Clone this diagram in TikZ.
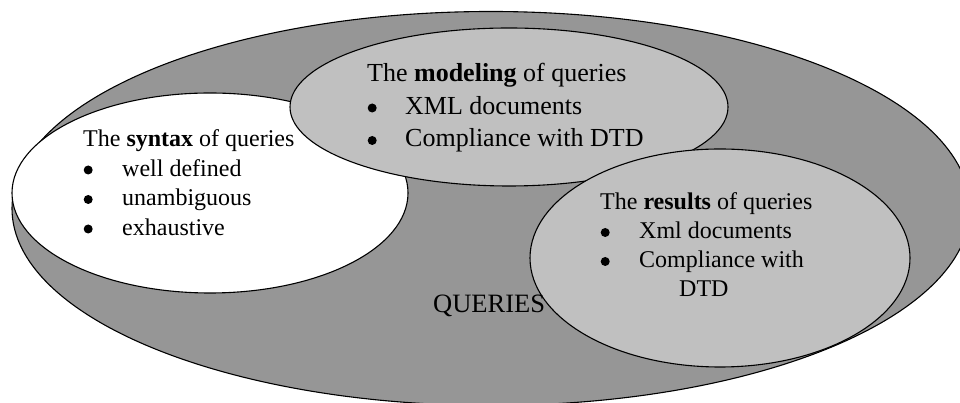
\documentclass[tikz,border=0pt]{standalone}
\usepackage{fontspec}
\setmainfont{Liberation Serif}
\definecolor{rimgray}{HTML}{969696}
\definecolor{capgray}{HTML}{C0C0C0}
% Word-style round bullet, then the item text at a fixed tab
\newcommand\itm[2]{\makebox[#2][l]{\hspace{#1}\tikz[baseline=0pt,x=1pt,y=1pt]\fill (4.5,6.5) circle (4.5);}}

\begin{document}
\begin{tikzpicture}[x=1pt,y=1pt,
  disc/.style={draw=black, line width=1.1pt},
  txt/.style={anchor=base west, inner sep=0pt}]
\clip (0,0) rectangle (960,403);
% the whole set of queries
\draw[disc, fill=rimgray] (491,194.5) ellipse (479 and 197);
% the three parts
\draw[disc, fill=white]   (210,210) ellipse (198 and 100);
\draw[disc, fill=capgray] (509,296) ellipse (219 and 79);
\draw[disc, fill=capgray] (720,145) ellipse (190 and 109);

\node[txt, font=\fontsize{26.5}{30}\selectfont] (qry) at (433,90) {QUERIES};

\node[txt] (syn) at (83,256) {\fontsize{24}{29.5}\selectfont
  \begin{tabular}[t]{@{}l@{}}
  The \textbf{syntax} of queries\\
  \itm{0.5pt}{39pt}well defined\\
  \itm{0.5pt}{39pt}unambiguous\\
  \itm{0.5pt}{39pt}exhaustive
  \end{tabular}};
\node[txt] (mod) at (367,321) {\fontsize{26}{32.5}\selectfont
  \begin{tabular}[t]{@{}l@{}}
  The \textbf{modeling} of queries\\
  \itm{0.5pt}{38pt}XML documents\\
  \itm{0.5pt}{38pt}Compliance with DTD
  \end{tabular}};
\node[txt] (res) at (600,193) {\fontsize{24}{29}\selectfont
  \begin{tabular}[t]{@{}l@{}}
  The \textbf{results} of queries\\
  \itm{0.5pt}{39pt}Xml documents\\
  \itm{0.5pt}{39pt}Compliance with\\
  \hspace{79pt}DTD
  \end{tabular}};
\end{tikzpicture}
\end{document}
